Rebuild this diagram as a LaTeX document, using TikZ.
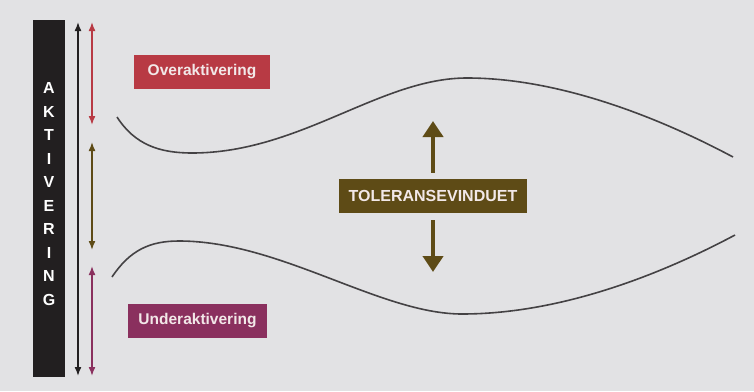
\documentclass[tikz,border=0pt]{standalone}
\usepackage{fontspec}
\setmainfont{Liberation Sans}
\usetikzlibrary{arrows.meta, positioning}
\definecolor{paper}{RGB}{226,226,228}
\definecolor{barBlack}{RGB}{34,31,32}
\definecolor{overRed}{RGB}{184,58,68}
\definecolor{underPurple}{RGB}{138,48,94}
\definecolor{tolOlive}{RGB}{94,75,22}
\definecolor{tagText}{RGB}{242,232,232}
\definecolor{curveGray}{RGB}{68,66,68}
\tikzset{
    barBox/.style={fill=barBlack, inner sep=0pt, minimum width=32pt, minimum height=357pt},
    barLetter/.style={text=white, inner sep=0pt, font=\bfseries\fontsize{16}{16}\selectfont},
    tagBox/.style={inner sep=0pt, minimum height=34pt, text=tagText, font=\bfseries\fontsize{15.5}{16}\selectfont},
    rangeArrow/.style={{Latex[length=9pt,width=7pt]}-{Latex[length=9pt,width=7pt]}, line width=1.6pt},
    bigArrow/.style={-{Triangle[length=16pt,width=20pt]}, line width=4pt, draw=tolOlive},
    windowLine/.style={draw=curveGray, line width=1.6pt},
}

\begin{document}
\begin{tikzpicture}[x=1pt, y=-1pt]

        % background
        \fill[paper] (0,0) rectangle (754,391);

        % activation bar
        \node[barBox] (bar) at (49,198.5) {};
        \foreach \l [count=\i from 0] in {A,K,T,I,V,E,R,I,N,G}
            \node[barLetter] (L\i) at (49,{88+23.5*\i}) {\l};

        % range arrows
        \coordinate (blackTop) at (78,22);
        \coordinate (blackBot) at (78,376);
        \coordinate (overTop) at (92,22);
        \coordinate (overBot) at (92,125);
        \coordinate (tolTop) at (92,142);
        \coordinate (tolBot) at (92,250);
        \coordinate (underTop) at (92,266);
        \coordinate (underBot) at (92,376);
        \draw[rangeArrow, draw=barBlack] (blackTop) -- (blackBot);
        \draw[rangeArrow, draw=overRed] (overTop) -- (overBot);
        \draw[rangeArrow, draw=tolOlive] (tolTop) -- (tolBot);
        \draw[rangeArrow, draw=underPurple] (underTop) -- (underBot);

        % labels
        \node[tagBox, fill=overRed, minimum width=136pt] (over) at (202,71.5) {Overaktivering};
        \node[tagBox, fill=underPurple, minimum width=139pt] (under) at (197.5,321) {Underaktivering};
        \node[tagBox, fill=tolOlive, minimum width=188pt, font=\bfseries\fontsize{16}{16}\selectfont] (tol) at (433,196) {TOLERANSEVINDUET};

        % window boundaries
        \draw[windowLine] (117,117) .. controls (135,145) and (160,153) .. (192,153)
            .. controls (300,153) and (380,78) .. (467,78)
            .. controls (560,78) and (660,118) .. (733,157);
        \draw[windowLine] (112,277) .. controls (130,250) and (150,241) .. (179,241)
            .. controls (280,241) and (380,314) .. (462,314)
            .. controls (560,314) and (660,275) .. (735,235);

        % window arrows
        \coordinate (tolUp) at (433,121);
        \coordinate (tolDown) at (433,272);
        \draw[bigArrow] ([yshift=6pt]tol.north) -- (tolUp);
        \draw[bigArrow] ([yshift=-7pt]tol.south) -- (tolDown);

    \end{tikzpicture}
\end{document}
